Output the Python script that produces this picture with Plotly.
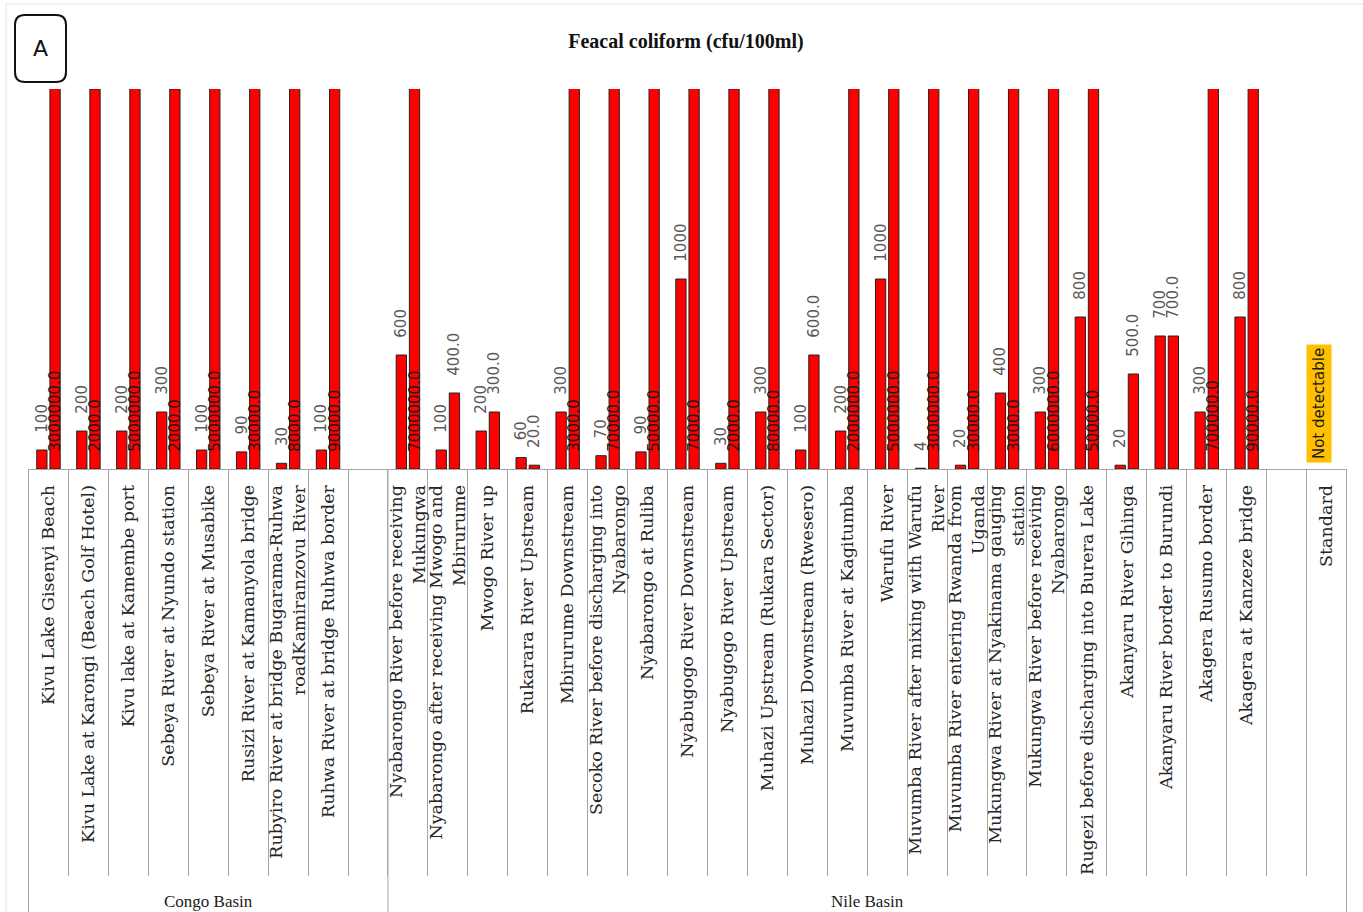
import plotly.graph_objects as go

# ---------------- data ----------------
categories = [
    "Kivu Lake Gisenyi Beach",
    "Kivu Lake at Karongi (Beach Golf Hotel)",
    "Kivu lake at Kamembe port",
    "Sebeya River at Nyundo station",
    "Sebeya River at Musabike",
    "Rusizi River at Kamanyola bridge",
    "Rubyiro River at bridge Bugarama-Ruhwa<br>roadKamiranzovu River",
    "Ruhwa River at bridge Ruhwa border",
    " ",
    "Nyabarongo River before receiving<br>Mukungwa",
    "Nyabarongo after receiving Mwogo and<br>Mbirurume",
    "Mwogo River up",
    "Rukarara River Upstream",
    "Mbirurume Downstream",
    "Secoko River before discharging into<br>Nyabarongo",
    "Nyabarongo at Ruliba",
    "Nyabugogo River Downstream",
    "Nyabugogo River Upstream",
    "Muhazi Upstream (Rukara Sector)",
    "Muhazi Downstream (Rwesero)",
    "Muvumba River at Kagitumba",
    "Warufu River",
    "Muvumba River after mixing with Warufu<br>River",
    "Muvumba River entering Rwanda from<br>Uganda",
    "Mukungwa River at Nyakinama gauging<br>station",
    "Mukungwa River before receiving<br>Nyabarongo",
    "Rugezi before discharging into Burera Lake",
    "Akanyaru River Gihinga",
    "Akanyaru River border to Burundi",
    "Akagera Rusumo border",
    "Akagera at Kanzeze bridge",
    "  ",
    "Standard",
]
basins = ["Congo Basin", "Nile Basin"]
basin_sizes = [9, 24]

series_a = [100, 200, 200, 300, 100, 90, 30, 100, None,
            600, 100, 200, 60, 300, 70, 90, 1000, 30, 300, 100, 200, 1000, 4, 20,
            400, 300, 800, 20, 700, 300, 800, None, None]
series_b = [3000000, 2000, 5000000, 2000, 5000000, 30000, 8000, 90000, None,
            7000000, 400, 300, 20, 3000, 70000, 50000, 7000, 2000, 80000, 600,
            2000000, 5000000, 3000000, 30000, 3000, 6000000, 50000, 500, 700,
            700000, 90000, None, None]
standard_note = "Not detectable"
title_text = "Feacal coliform (cfu/100ml)"
panel_letter = "A"

Y_MAX = 2000

# ---------------- geometry (pixels) ----------------
FIG_W, FIG_H = 1363, 912
L, R, T, B = 28, 1347, 89, 469
W, H = R - L, B - T


def px(x):
    return (x - L) / W


def py(y):
    return (B - y) / H


RED = "#FF0000"
EDGE = "#222222"
GRID = "#A6A6A6"
LABEL_GREY = "#595959"
PAD = "\u00a0\u00a0\u00a0"

text_a = ["" if v is None else PAD + f"{v}" for v in series_a]
text_b = ["" if v is None else PAD + f"{v:.1f}" for v in series_b]
pos_b = ["inside" if (v is not None and v >= Y_MAX) else "outside" for v in series_b]

fig = go.Figure()

fig.add_trace(go.Bar(
    x=categories, y=series_a, name="a",
    marker=dict(color=RED, line=dict(color=EDGE, width=1)),
    text=text_a, textposition="outside", textangle=-90, constraintext="none",
    outsidetextfont=dict(family="DejaVu Sans", size=15, color=LABEL_GREY),
    hoverinfo="skip",
))

fig.add_trace(go.Bar(
    x=categories, y=series_b, name="b",
    marker=dict(color=RED, line=dict(color=EDGE, width=1)),
    text=text_b, textposition=pos_b, textangle=-90, constraintext="none",
    insidetextanchor="start",
    insidetextfont=dict(family="DejaVu Sans", size=15, color="#1a1a1a"),
    outsidetextfont=dict(family="DejaVu Sans", size=15, color=LABEL_GREY),
    hoverinfo="skip",
))

shapes = []
# basin dividers
edges = [-0.5]
for n in basin_sizes:
    edges.append(edges[-1] + n)
for e in edges:
    shapes.append(dict(type="line", xref="x", yref="paper", x0=e, x1=e,
                       y0=0, y1=py(FIG_H + 2), line=dict(color=GRID, width=1)))

# rounded "A" box
x0, y0, x1, y1, r = 15, 15, 66, 82, 10


def P(x, y):
    return f"{px(x):.6f},{py(y):.6f}"


path = (f"M {P(x0 + r, y0)} L {P(x1 - r, y0)} Q {P(x1, y0)} {P(x1, y0 + r)} "
        f"L {P(x1, y1 - r)} Q {P(x1, y1)} {P(x1 - r, y1)} "
        f"L {P(x0 + r, y1)} Q {P(x0, y1)} {P(x0, y1 - r)} "
        f"L {P(x0, y0 + r)} Q {P(x0, y0)} {P(x0 + r, y0)} Z")
shapes.append(dict(type="path", xref="paper", yref="paper", path=path,
                   line=dict(color="#111111", width=2), fillcolor="white"))

# faint outer frame
shapes.append(dict(type="rect", xref="paper", yref="paper",
                   x0=px(6), x1=px(FIG_W + 5), y0=py(4), y1=py(FIG_H + 5),
                   line=dict(color="#E3E3E3", width=1)))

annotations = []
start = -0.5
for name, n in zip(basins, basin_sizes):
    annotations.append(dict(text=name, xref="x", yref="paper",
                            x=start + n / 2, y=py(901), showarrow=False,
                            yanchor="middle", xanchor="center",
                            font=dict(family="Liberation Serif", size=17, color="#1a1a1a")))
    start += n

annotations.append(dict(text=standard_note, xref="x", yref="y",
                        x="Standard", y=0, showarrow=False, textangle=-90,
                        xanchor="center", yanchor="bottom", xshift=-8, yshift=6,
                        bgcolor="#FFC000", borderpad=3,
                        font=dict(family="DejaVu Sans", size=15, color="#1a1a1a")))

annotations.append(dict(text=panel_letter, xref="paper", yref="paper",
                        x=px(40.5), y=py(49), showarrow=False,
                        xanchor="center", yanchor="middle",
                        font=dict(family="DejaVu Sans", size=22, color="#111111")))

fig.update_layout(
    template="none",
    width=FIG_W, height=FIG_H,
    margin=dict(l=L, r=FIG_W - R, t=T, b=FIG_H - B, autoexpand=False),
    paper_bgcolor="white", plot_bgcolor="white",
    barmode="group", bargap=0.34, bargroupgap=0.22,
    showlegend=False,
    title=dict(text=title_text, x=px(686), xref="paper", xanchor="center",
               y=1 - 41 / FIG_H, yref="container", yanchor="middle",
               font=dict(family="Liberation Serif", size=20, color="#111111",
                         weight="bold")),
    xaxis=dict(type="category", categoryorder="array", categoryarray=categories,
               tickangle=-90, ticks="outside", tickson="boundaries",
               ticklen=406, tickcolor=GRID, tickwidth=1,
               ticklabelstandoff=8,
               showline=True, linecolor=GRID, linewidth=1,
               showgrid=False, zeroline=False, automargin=False,
               tickfont=dict(family="DejaVu Serif", size=17.5, color="#262626")),
    yaxis=dict(range=[0, Y_MAX], visible=False, showgrid=False,
               zeroline=False, automargin=False),
    shapes=shapes,
    annotations=annotations,
)

fig.write_html("out.html")
